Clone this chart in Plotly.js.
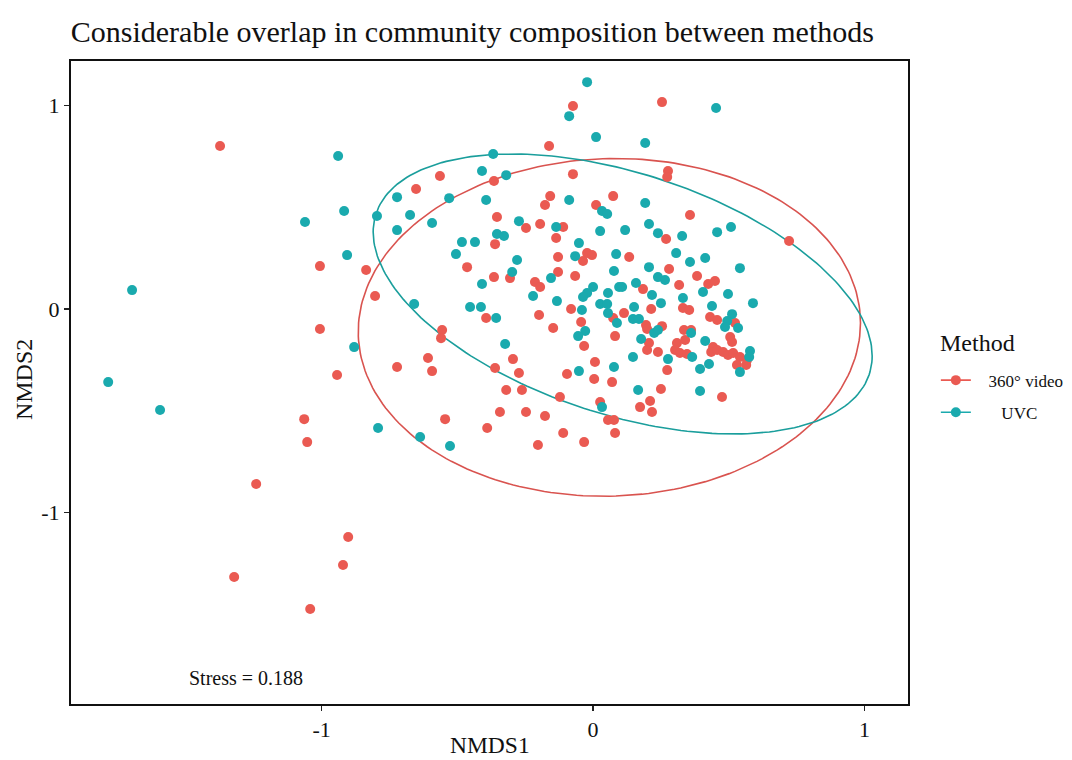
<!DOCTYPE html>
<html>
<head>
<meta charset="utf-8">
<script src="https://cdn.plot.ly/plotly-3.0.1.min.js"></script>
<style>html,body{margin:0;padding:0;background:#fff}#chart{width:1072px;height:760px}</style>
</head>
<body>
<div id="chart"></div>
<script>
// ---- Data (NMDS scores) ----
const groupNames = ["\u00a0\u00a0\u00a0360\u00b0 video", "\u00a0\u00a0\u00a0\u00a0\u00a0\u00a0UVC"];
const groupColors = ["#EA5A52", "#1AAAAE"];
const ellipseColors = ["#D9534F", "#1A9E9C"];
const legendTitle = "Method";

const videoX = [-1.374,-1.006,-1.006,-0.943,-1.064,-1.053,-1.241,-0.902,-0.921,-1.322,-1.042,
-0.074,-0.162,-0.564,-0.365,-0.074,-0.652,-0.158,-0.177,0.011,0.074,
-0.354,-0.247,-0.195,-0.110,-0.136,-0.361,-0.129,-0.022,-0.004,
0.254,0.276,0.273,0.357,0.269,0.722,0.133,-0.037,-0.836,-0.464,
-0.365,-0.306,-0.129,-0.066,-0.214,-0.195,-0.803,-0.081,-0.394,-0.199,
-0.044,0.074,-0.147,0.081,-0.556,-0.560,-0.033,-0.608,-0.722,-0.593,
-0.295,-0.361,-0.273,0.007,-0.096,0.004,0.070,-0.320,-0.262,-0.122,
0.026,-0.343,-0.247,-0.177,0.055,0.077,-0.545,-0.390,-0.110,0.081,
-0.203,-0.033,0.280,0.383,0.424,0.449,0.317,0.184,0.214,0.331,
0.354,0.114,0.431,0.457,0.523,0.195,0.199,0.254,0.335,0.361,
0.505,0.512,0.206,0.199,0.239,0.309,0.302,0.320,0.346,0.339,
0.442,0.435,0.457,0.479,0.497,0.516,0.541,0.567,0.530,0.564,
0.273,0.250,0.475,0.210,0.173,0.217];
const videoY = [0.801,0.211,-0.098,-0.324,-0.541,-0.654,-0.860,-1.120,-1.258,-1.317,-1.474,
0.998,0.801,0.654,0.629,0.663,0.590,0.555,0.511,0.511,0.555,
0.452,0.398,0.418,0.403,0.349,0.319,0.256,0.275,0.265,
1.017,0.678,0.649,0.462,0.344,0.334,0.256,0.236,0.192,0.206,
0.157,0.152,0.182,0.162,0.133,0.108,0.064,0.000,-0.044,-0.029,
-0.064,-0.044,-0.093,-0.133,-0.103,-0.143,-0.182,-0.241,-0.285,-0.305,
-0.246,-0.290,-0.314,-0.260,-0.319,-0.344,-0.359,-0.398,-0.398,-0.432,
-0.457,-0.506,-0.506,-0.526,-0.545,-0.545,-0.541,-0.585,-0.609,-0.609,
-0.668,-0.654,0.197,0.162,0.123,0.138,0.118,0.098,0.000,0.005,
-0.005,-0.020,-0.039,-0.054,-0.069,-0.079,-0.098,-0.084,-0.103,-0.103,
-0.138,-0.162,-0.167,-0.201,-0.211,-0.167,-0.201,-0.216,-0.221,-0.152,
-0.187,-0.211,-0.201,-0.211,-0.226,-0.216,-0.236,-0.251,-0.275,-0.275,
-0.300,-0.393,-0.432,-0.452,-0.482,-0.506];

const uvcX = [-0.939,-0.917,-1.061,-0.906,-1.698,-0.880,-1.786,-1.595,
-0.022,-0.088,0.011,-0.368,-0.409,-0.320,-0.722,-0.530,-0.394,-0.088,
0.033,0.052,-0.796,-0.674,-0.593,-0.722,-0.273,-0.136,-0.354,-0.328,
0.026,-0.483,-0.435,-0.052,-0.505,-0.066,0.085,-0.280,0.453,0.192,
0.192,0.206,0.239,0.328,0.457,0.508,0.118,0.306,0.357,0.413,
-0.298,-0.155,0.077,-0.409,0.000,-0.022,-0.037,0.055,0.096,-0.221,
-0.659,-0.133,0.026,0.052,0.055,-0.453,-0.413,-0.041,-0.357,0.088,
-0.029,-0.055,-0.324,0.077,-0.052,0.033,-0.792,-0.637,-0.527,0.541,
0.206,0.239,0.265,0.107,0.158,0.217,0.405,0.497,0.589,0.331,
0.250,0.151,0.438,0.512,0.147,0.169,0.494,0.486,0.534,0.225,
0.239,0.361,0.177,0.413,0.578,0.575,0.541,0.365,0.427,0.394,
0.276,0.147,0.166,0.394];
const uvcY = [0.752,0.482,0.428,0.265,0.093,-0.187,-0.359,-0.496,
1.115,0.948,0.845,0.762,0.678,0.658,0.550,0.545,0.536,0.536,
0.482,0.467,0.457,0.462,0.423,0.388,0.432,0.403,0.369,0.359,
0.383,0.329,0.329,0.324,0.270,0.260,0.270,0.241,0.988,0.816,
0.521,0.418,0.373,0.359,0.378,0.403,0.388,0.275,0.231,0.251,
0.182,0.152,0.187,0.123,0.108,0.079,0.059,0.079,0.108,0.064,
0.025,0.039,0.025,0.025,-0.020,0.010,0.010,-0.005,-0.044,-0.069,
-0.108,-0.133,-0.172,-0.285,-0.305,-0.482,-0.585,-0.629,-0.673,0.201,
0.206,0.157,0.143,0.108,0.128,0.069,0.084,0.074,0.029,0.054,
0.029,0.010,0.015,-0.025,-0.049,-0.049,-0.059,-0.088,-0.093,-0.118,
-0.103,-0.118,-0.147,-0.157,-0.206,-0.236,-0.310,-0.236,-0.270,-0.295,
-0.246,-0.236,-0.398,-0.403];

// ellipse parameters: [centerX, centerY, halfWidthX, halfHeightY, covariance term]
const ellipseVideo = [0.060, -0.090, 0.925, 0.830, 0.02];
const ellipseUVC   = [0.109, 0.074, 0.919, 0.688, -0.28];

const xTicks = [-1, 0, 1];
const yTicks = [-1, 0, 1];
const stressLabel = "Stress = 0.188";

// ---- helpers ----
function ellipsePath(p) {
  const [cx, cy, sx, sy, cv] = p;
  const a21 = cv / sx;
  const a22 = Math.sqrt(sy * sy - a21 * a21);
  const xs = [], ys = [];
  const n = 240;
  for (let i = 0; i <= n; i++) {
    const t = 2 * Math.PI * i / n;
    xs.push(cx + sx * Math.cos(t));
    ys.push(cy + a21 * Math.cos(t) + a22 * Math.sin(t));
  }
  return {xs, ys};
}

const serif = "Liberation Serif, Times New Roman, serif";
const eV = ellipsePath(ellipseVideo);
const eU = ellipsePath(ellipseUVC);

const traces = [
  {x: eV.xs, y: eV.ys, mode: "lines", line: {color: ellipseColors[0], width: 1.6}, showlegend: false, hoverinfo: "skip"},
  {x: eU.xs, y: eU.ys, mode: "lines", line: {color: ellipseColors[1], width: 1.6}, showlegend: false, hoverinfo: "skip"},
  {x: videoX, y: videoY, mode: "markers", marker: {color: groupColors[0], size: 10}, showlegend: false},
  {x: uvcX, y: uvcY, mode: "markers", marker: {color: groupColors[1], size: 10}, showlegend: false},
  {x: [null], y: [null], mode: "lines+markers", name: groupNames[0], legendgroup: "a",
   line: {color: groupColors[0], width: 1.6}, marker: {color: groupColors[0], size: 10}},
  {x: [null], y: [null], mode: "lines+markers", name: groupNames[1], legendgroup: "b",
   line: {color: groupColors[1], width: 1.6}, marker: {color: groupColors[1], size: 10}}
];

const axisCommon = {
  showgrid: false, zeroline: false, showline: true, mirror: true,
  linecolor: "#111", linewidth: 2, ticks: "outside", ticklen: 5, tickwidth: 1.5, tickcolor: "#222",
  tickfont: {family: serif, size: 22, color: "#111"}
};

const layout = {
  width: 1072, height: 760,
  margin: {l: 71, r: 164, t: 61, b: 56},
  paper_bgcolor: "#fff", plot_bgcolor: "#fff",
  title: {text: "Considerable overlap in community composition between methods",
          x: 0.066, xanchor: "left", xref: "container", y: 0.958, yanchor: "middle",
          font: {family: serif, size: 30, color: "#111"}},
  xaxis: Object.assign({}, axisCommon, {range: [-1.923, 1.160], tickvals: xTicks, ticktext: xTicks.map(String)}),
  yaxis: Object.assign({}, axisCommon, {range: [-1.941, 1.219], tickvals: yTicks, ticktext: yTicks.map(String)}),
  showlegend: true,
  legend: {xref: "container", yref: "container", x: 0.873, xanchor: "left", y: 0.5229, yanchor: "top",
           font: {family: serif, size: 17, color: "#111"},
           traceorder: "grouped", tracegroupgap: 7, bgcolor: "rgba(0,0,0,0)"},
  annotations: [
    {text: "NMDS1", xref: "paper", yref: "paper", x: 0.5, y: -0.0635, xanchor: "center", yanchor: "middle",
     showarrow: false, font: {family: serif, size: 23.5, color: "#111"}},
    {text: "NMDS2", xref: "paper", yref: "paper", x: -0.056, y: 0.504, xanchor: "center", yanchor: "middle",
     textangle: -90, showarrow: false, font: {family: serif, size: 24, color: "#111"}},
    {text: legendTitle, xref: "paper", yref: "paper", x: 1.0358, y: 0.562, xanchor: "left", yanchor: "middle",
     showarrow: false, font: {family: serif, size: 24, color: "#111"}},
    {text: stressLabel, xref: "paper", yref: "paper", x: 0.1386, y: 0.040, xanchor: "left", yanchor: "middle",
     showarrow: false, font: {family: serif, size: 20, color: "#111"}}
  ]
};

Plotly.newPlot("chart", traces, layout, {displayModeBar: false, staticPlot: true});
</script>
</body>
</html>
